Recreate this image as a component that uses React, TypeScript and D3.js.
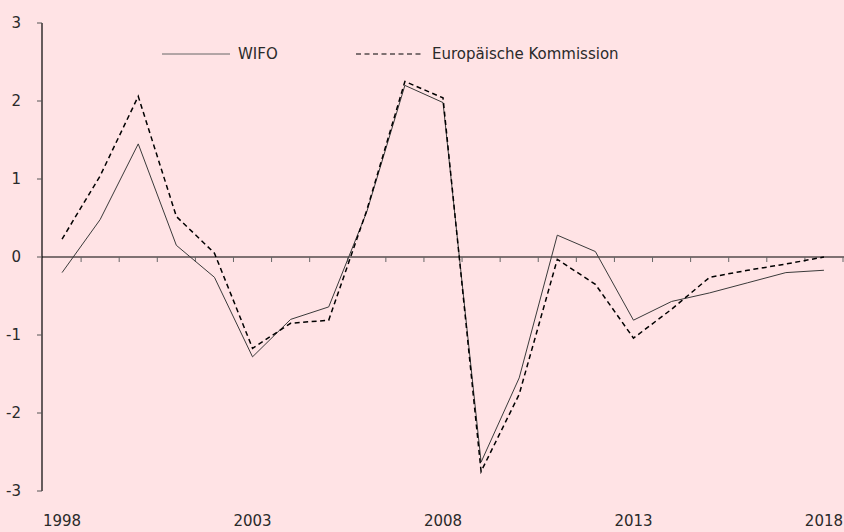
import React, { useEffect } from 'react'
import * as d3 from 'd3'

let years: string[] = ['1998', '1999', '2000', '2001', '2002', '2003', '2004', '2005', '2006', '2007', '2008',
    '2009', '2010', '2011', '2012', '2013', '2014', '2015', '2016', '2017', '2018']

let wifo: number[] = [-0.2, 0.48, 1.45, 0.15, -0.26, -1.28, -0.8, -0.64, 0.58, 2.2, 1.98,
    -2.63, -1.55, 0.28, 0.07, -0.81, -0.57, -0.46, -0.33, -0.2, -0.17]

let kommission: number[] = [0.23, 1.04, 2.06, 0.52, 0.05, -1.17, -0.85, -0.81, 0.6, 2.25, 2.04,
    -2.75, -1.76, -0.03, -0.35, -1.04, -0.67, -0.26, -0.17, -0.09, 0.0]

let yTicks: number[] = [-3, -2, -1, 0, 1, 2, 3]
let yearLabels: string[] = ['1998', '2003', '2008', '2013', '2018']
let legendNames: string[] = ['WIFO', 'Europäische Kommission']

export default function App() {

    let width = 844, height = 532
    let font = '"DejaVu Sans", sans-serif'
    let fontSize = '15px'

    function drawChart() {
        d3.select('#chart').selectAll('*').remove()

        var svg = d3.select('#chart')
            .append('svg')
            .attr('width', width)
            .attr('height', height)
            .style('position', 'absolute')
            .style('left', 0)
            .style('top', 0)

        svg.append('rect')
            .attr('width', width)
            .attr('height', height)
            .attr('fill', '#ffe3e5')

        var x = d3.scaleBand()
            .domain(years)
            .range([43, 843])

        var y = d3.scaleLinear()
            .domain([-3, 3])
            .range([491, 23])

        // y axis
        svg.append('line')
            .attr('x1', 42).attr('x2', 42)
            .attr('y1', y(3)).attr('y2', y(-3))
            .attr('stroke', 'black')
            .attr('stroke-width', 1.2)

        svg.append('g')
            .selectAll('line')
            .data(yTicks)
            .enter()
            .append('line')
            .attr('x1', 37).attr('x2', 42)
            .attr('y1', function (d) { return y(d) })
            .attr('y2', function (d) { return y(d) })
            .attr('stroke', '#555')

        svg.append('g')
            .selectAll('text')
            .data(yTicks)
            .enter()
            .append('text')
            .attr('x', 21)
            .attr('y', function (d) { return y(d) })
            .attr('dy', '0.36em')
            .attr('text-anchor', 'end')
            .text(function (d) { return d })
            .style('font-size', fontSize)
            .style('font-family', font)
            .attr('fill', '#2a2a2a')

        // zero line with category ticks
        svg.append('line')
            .attr('x1', 42).attr('x2', width)
            .attr('y1', y(0)).attr('y2', y(0))
            .attr('stroke', 'black')
            .attr('stroke-width', 1.2)

        let tickPos = years.map(function (d) { return x(d) as number }).concat([843])
        svg.append('g')
            .selectAll('line')
            .data(tickPos.slice(1))
            .enter()
            .append('line')
            .attr('x1', function (d) { return d })
            .attr('x2', function (d) { return d })
            .attr('y1', y(0))
            .attr('y2', y(0) + 5)
            .attr('stroke', '#666')

        svg.append('g')
            .selectAll('text')
            .data(yearLabels)
            .enter()
            .append('text')
            .attr('x', function (d) { return (x(d) as number) + x.bandwidth() / 2 })
            .attr('y', 526)
            .attr('text-anchor', 'middle')
            .text(function (d) { return d })
            .style('font-size', fontSize)
            .style('font-family', font)
            .attr('fill', '#2a2a2a')

        // series
        var line = d3.line<number>()
            .x(function (d, i) { return (x(years[i]) as number) + x.bandwidth() / 2 })
            .y(function (d) { return y(d) })

        svg.append('path')
            .datum(wifo)
            .attr('d', line)
            .attr('fill', 'none')
            .attr('stroke', '#3a3a3a')
            .attr('stroke-width', 1)

        svg.append('path')
            .datum(kommission)
            .attr('d', line)
            .attr('fill', 'none')
            .attr('stroke', 'black')
            .attr('stroke-width', 1.5)
            .attr('stroke-dasharray', '5,3.5')

        // legend
        svg.append('line')
            .attr('x1', 162).attr('x2', 230)
            .attr('y1', 54).attr('y2', 54)
            .attr('stroke', '#666')
            .attr('stroke-width', 1)

        svg.append('line')
            .attr('x1', 356).attr('x2', 423)
            .attr('y1', 54).attr('y2', 54)
            .attr('stroke', 'black')
            .attr('stroke-width', 1.2)
            .attr('stroke-dasharray', '5,3.5')

        svg.append('g')
            .selectAll('text')
            .data(legendNames)
            .enter()
            .append('text')
            .attr('x', function (d, i) { return i == 0 ? 238 : 432 })
            .attr('y', 54)
            .attr('dy', '0.36em')
            .text(function (d) { return d })
            .style('font-size', fontSize)
            .style('font-family', font)
            .attr('fill', '#2a2a2a')
    }

    useEffect(() => {
        drawChart()
    }, [])

    return (
        <div id='chart'>

        </div>
    )
}
